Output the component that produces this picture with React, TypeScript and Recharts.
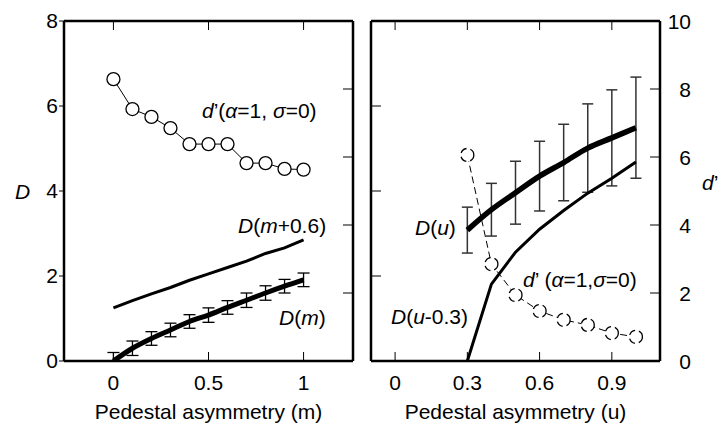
import React from 'react';
import { ComposedChart, Line, XAxis, YAxis, ErrorBar } from 'recharts';

// left panel: pedestal asymmetry m
const mSteps = [0, 0.1, 0.2, 0.3, 0.4, 0.5, 0.6, 0.7, 0.8, 0.9, 1];
const dPrimeM = [8.29, 7.41, 7.18, 6.85, 6.38, 6.38, 6.38, 5.82, 5.82, 5.65, 5.63];
const dShiftM = [1.25, 1.42, 1.58, 1.73, 1.9, 2.05, 2.2, 2.35, 2.53, 2.66, 2.85];
const dM = [0, 0.3, 0.53, 0.73, 0.93, 1.08, 1.26, 1.43, 1.6, 1.76, 1.91];
const dMErr = [[0, 0.2], 0.17, 0.16, 0.16, 0.16, 0.17, 0.16, 0.17, 0.17, 0.16, 0.16];

// right panel: pedestal asymmetry u
const uSteps = [0.3, 0.4, 0.5, 0.6, 0.7, 0.8, 0.9, 1];
const dU = [3.08, 3.56, 3.96, 4.35, 4.67, 5.01, 5.25, 5.49];
const dUErr = [0.54, 0.62, 0.74, 0.82, 0.9, 1.04, 1.13, 1.19];
const dShiftU = [0, 1.81, 2.56, 3.1, 3.54, 3.95, 4.3, 4.68];
const dPrimeU = [6.06, 2.85, 1.94, 1.47, 1.21, 1.06, 0.82, 0.71];

const mTicks = [0, 0.5, 1];
const uTicks = [0, 0.3, 0.6, 0.9];
const dTicks = [0, 2, 4, 6, 8];
const dPrimeTicks = [0, 2, 4, 6, 8, 10];

const leftData = mSteps.map((m, i) => ({ m, dPrime: dPrimeM[i], dShift: dShiftM[i], d: dM[i], err: dMErr[i] }));
const rightData = uSteps.map((u, i) => ({ u, dPrime: dPrimeU[i], dShift: dShiftU[i], d: dU[i], err: dUErr[i] }));

const FONT = '"Liberation Sans", Arial, sans-serif';
const FS = 21;
const frame = { stroke: '#000', strokeWidth: 2.5 };
const tickLine = { stroke: '#000', strokeWidth: 1 };
const tickFont = { fill: '#000', fontSize: FS, fontFamily: FONT };
const circle = { r: 6.5, fill: '#fff', stroke: '#000', strokeWidth: 1.3 };

// inward tick + label below the bottom axis
const BottomTick = (p: any) => (
  <g>
    <line x1={p.x} y1={p.y} x2={p.x} y2={p.y - 9} stroke="#000" strokeWidth={1} />
    <text x={p.x} y={p.y + 29} textAnchor="middle" fontSize={FS} fontFamily={FONT} fill="#000">{p.payload.value}</text>
  </g>
);
const TopTick = (p: any) => <line x1={p.x} y1={p.y} x2={p.x} y2={p.y + 9} stroke="#000" strokeWidth={1} />;
const LeftInTick = (p: any) => <line x1={p.x} y1={p.y} x2={p.x + 10} y2={p.y} stroke="#000" strokeWidth={1} />;
const RightInTick = (p: any) => <line x1={p.x} y1={p.y} x2={p.x - 10} y2={p.y} stroke="#000" strokeWidth={1} />;
const RightLabelTick = (p: any) => (
  <g>
    <line x1={p.x} y1={p.y} x2={p.x - 10} y2={p.y} stroke="#000" strokeWidth={1} />
    <text x={p.x + 31} y={p.y + 7.5} textAnchor="end" fontSize={FS} fontFamily={FONT} fill="#000">{p.payload.value}</text>
  </g>
);

const Note = ({ x, y, children }: { x: number; y: number; children: React.ReactNode }) => (
  <div style={{ position: 'absolute', left: x, top: y, fontSize: FS, lineHeight: '21px', whiteSpace: 'nowrap', color: '#000' }}>
    {children}
  </div>
);

const App = () => {
  return (
    <div style={{ position: 'absolute', left: 0, top: 0, width: 720, height: 424, background: '#fff', fontFamily: FONT }}>
      <div style={{ position: 'absolute', left: 0, top: 0 }}>
        <ComposedChart width={360} height={424} data={leftData} margin={{ top: 20, right: 6, bottom: 0, left: 0 }}>
          <XAxis dataKey="m" type="number" domain={[-0.26, 1.26]} ticks={mTicks} interval={0} allowDataOverflow
            height={63} tickSize={0} tickMargin={0} axisLine={frame} tickLine={false} tick={(p: any) => <BottomTick {...p} />}
            label={{ value: 'Pedestal asymmetry (m)', position: 'insideBottom', offset: 5, fill: '#000', fontSize: FS, fontFamily: FONT }} />
          <XAxis xAxisId="top" orientation="top" dataKey="m" type="number" domain={[-0.26, 1.26]} ticks={mTicks} interval={0}
            allowDataOverflow height={1} tickSize={0} tickMargin={0} axisLine={frame} tickLine={false} tick={(p: any) => <TopTick {...p} />} />
          <YAxis yAxisId="D" type="number" domain={[0, 8]} ticks={dTicks} interval={0} allowDataOverflow width={64}
            tickSize={5} tickMargin={1} axisLine={frame} tickLine={tickLine} tick={tickFont} />
          <YAxis yAxisId="dp" orientation="right" type="number" domain={[0, 10]} ticks={dPrimeTicks} interval={0} allowDataOverflow
            width={1} tickSize={0} tickMargin={0} axisLine={frame} tickLine={false} tick={(p: any) => <RightInTick {...p} />} />
          <Line yAxisId="dp" dataKey="dPrime" type="linear" stroke="#000" strokeWidth={1} dot={circle} isAnimationActive={false} />
          <Line yAxisId="D" dataKey="dShift" type="linear" stroke="#000" strokeWidth={3} dot={false} isAnimationActive={false} />
          <Line yAxisId="D" dataKey="d" type="monotone" stroke="#000" strokeWidth={5} dot={false} isAnimationActive={false}>
            <ErrorBar dataKey="err" width={6} stroke="#000" strokeWidth={1.3} direction="y" />
          </Line>
        </ComposedChart>
      </div>
      <div style={{ position: 'absolute', left: 360, top: 0 }}>
        <ComposedChart width={360} height={424} data={rightData} margin={{ top: 20, right: 0, bottom: 0, left: 0 }}>
          <XAxis dataKey="u" type="number" domain={[-0.1, 1.1]} ticks={uTicks} interval={0} allowDataOverflow
            height={63} tickSize={0} tickMargin={0} axisLine={frame} tickLine={false} tick={(p: any) => <BottomTick {...p} />}
            label={{ value: 'Pedestal asymmetry (u)', position: 'insideBottom', offset: 5, fill: '#000', fontSize: FS, fontFamily: FONT }} />
          <XAxis xAxisId="top" orientation="top" dataKey="u" type="number" domain={[-0.1, 1.1]} ticks={uTicks} interval={0}
            allowDataOverflow height={1} tickSize={0} tickMargin={0} axisLine={frame} tickLine={false} tick={(p: any) => <TopTick {...p} />} />
          <YAxis yAxisId="D" type="number" domain={[0, 8]} ticks={dTicks} interval={0} allowDataOverflow width={11}
            tickSize={0} tickMargin={0} axisLine={frame} tickLine={false} tick={(p: any) => <LeftInTick {...p} />} />
          <YAxis yAxisId="dp" orientation="right" type="number" domain={[0, 10]} ticks={dPrimeTicks} interval={0} allowDataOverflow
            width={60} tickSize={0} tickMargin={0} axisLine={frame} tickLine={false} tick={(p: any) => <RightLabelTick {...p} />} />
          <Line yAxisId="D" dataKey="d" type="monotone" stroke="#000" strokeWidth={5.5} dot={false} isAnimationActive={false}>
            <ErrorBar dataKey="err" width={5.5} stroke="#333" strokeWidth={1.5} direction="y" />
          </Line>
          <Line yAxisId="D" dataKey="dShift" type="linear" stroke="#000" strokeWidth={3} dot={false} isAnimationActive={false} />
          <Line yAxisId="dp" dataKey="dPrime" type="linear" stroke="#000" strokeWidth={1} strokeDasharray="7 4" dot={circle} isAnimationActive={false} />
        </ComposedChart>
      </div>

      <Note x={15} y={181}><i>D</i></Note>
      <Note x={202} y={100}><i>d</i>’(<i>α</i>=1, <i>σ</i>=0)</Note>
      <Note x={238} y={215}><i>D</i>(<i>m</i>+0.6)</Note>
      <Note x={279} y={307}><i>D</i>(<i>m</i>)</Note>

      <Note x={415} y={217}><i>D</i>(<i>u</i>)</Note>
      <Note x={523} y={269}><i>d</i>’ (<i>α</i>=1,<i>σ</i>=0)</Note>
      <Note x={391} y={306}><i>D</i>(<i>u</i>-0.3)</Note>
      <Note x={702} y={172}><i>d</i>’</Note>
    </div>
  );
};

export default App;
